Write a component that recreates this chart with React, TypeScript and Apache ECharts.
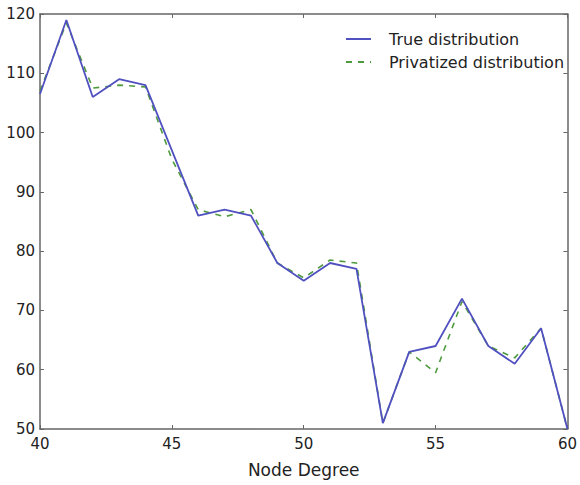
import React, { useEffect, useRef } from "react";
import * as echarts from "echarts";

const degrees = [40, 41, 42, 43, 44, 45, 46, 47, 48, 49, 50, 51, 52, 53, 54, 55, 56, 57, 58, 59, 60];
const trueValues = [106.5, 119, 106, 109, 108, 97, 86, 87, 86, 78, 75, 78, 77, 51, 63, 64, 72, 64, 61, 67, 50];
const privValues = [107, 118.5, 107.5, 108, 107.7, 95.5, 87, 85.8, 87, 78, 75.5, 78.5, 78, 51, 63, 59.5, 71.5, 64, 62, 67, 50];
const seriesNames = ["True distribution", "Privatized distribution"];

const FONT = "DejaVu Sans";

export default function App() {
  const ref = useRef<HTMLDivElement>(null);
  useEffect(() => {
    if (!ref.current) return;
    const chart = echarts.init(ref.current, null, { renderer: "svg" });
    const axisLine = { show: true, lineStyle: { color: "#666", width: 1.5 } };
    const tick = { show: true, inside: true, length: 4, lineStyle: { color: "#666" } };
    chart.setOption({
      animation: false,
      backgroundColor: "#fff",
      grid: { left: 40, right: 8, top: 14, bottom: 56, containLabel: false },
      legend: {
        orient: "vertical",
        left: 340,
        top: 26,
        itemWidth: 25,
        itemHeight: 10,
        itemGap: 7,
        itemStyle: { color: "transparent", borderColor: "transparent", borderWidth: 0, opacity: 0 },
        textStyle: { fontFamily: FONT, fontSize: 16, color: "#222", padding: [0, 0, 0, 13] },
        data: seriesNames,
      },
      xAxis: [
        {
          type: "value",
          min: 40,
          max: 60,
          interval: 5,
          name: "Node Degree",
          nameLocation: "middle",
          nameGap: 32,
          nameTextStyle: { fontFamily: FONT, fontSize: 17, color: "#222" },
          axisLine,
          axisTick: tick,
          splitLine: { show: false },
          axisLabel: { fontFamily: FONT, fontSize: 15, color: "#222", margin: 7 },
        },
        {
          type: "value",
          position: "top",
          min: 40,
          max: 60,
          interval: 5,
          axisLine,
          axisTick: tick,
          splitLine: { show: false },
          axisLabel: { show: false },
        },
      ],
      yAxis: [
        {
          type: "value",
          min: 50,
          max: 120,
          interval: 10,
          axisLine,
          axisTick: tick,
          splitLine: { show: false },
          axisLabel: { fontFamily: FONT, fontSize: 15, color: "#222", margin: 5 },
        },
        {
          type: "value",
          position: "right",
          min: 50,
          max: 120,
          interval: 10,
          axisLine,
          axisTick: tick,
          splitLine: { show: false },
          axisLabel: { show: false },
        },
      ],
      series: [
        {
          name: seriesNames[0],
          type: "line",
          data: degrees.map((d, i) => [d, trueValues[i]]),
          showSymbol: false,
          symbol: "none",
          color: "#5050c0",
          lineStyle: { color: "#5050c0", width: 1.8 },
          z: 3,
        },
        {
          name: seriesNames[1],
          type: "line",
          data: degrees.map((d, i) => [d, privValues[i]]),
          showSymbol: false,
          symbol: "none",
          color: "#4e9a3e",
          lineStyle: { color: "#4e9a3e", width: 1.6, type: [6, 6] },
          z: 2,
        },
      ],
    });
    return () => chart.dispose();
  }, []);
  return (
    <div
      ref={ref}
      style={{ position: "absolute", left: 0, top: 0, width: 580, height: 485 }}
    />
  );
}
